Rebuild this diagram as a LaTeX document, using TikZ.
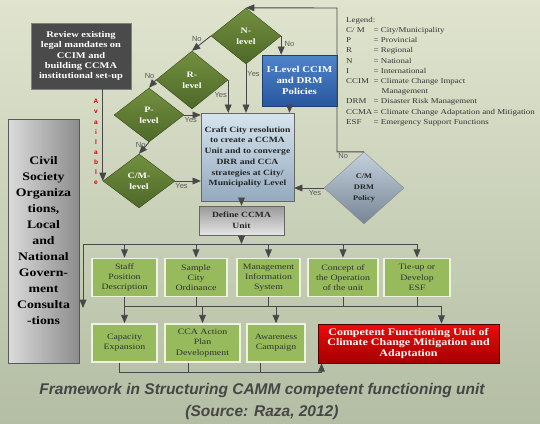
\documentclass[tikz,border=0pt]{standalone}
\usepackage{fontspec}
\setmainfont{Liberation Serif}[FakeStretch=1.2]
\newfontfamily\lblfont{Liberation Sans}
\usepackage{tikz}
\usetikzlibrary{arrows,shapes.geometric}

\definecolor{bgtop}{RGB}{224,228,206}
\definecolor{bgbot}{RGB}{180,190,164}
\definecolor{leveltop}{RGB}{114,144,64}
\definecolor{levelbot}{RGB}{78,104,40}
\definecolor{linegray}{RGB}{72,72,72}
\definecolor{taskgreen}{RGB}{150,186,92}
\definecolor{taskrim}{RGB}{238,243,224}
\definecolor{reviewgray}{RGB}{74,74,74}
\definecolor{ilevtop}{RGB}{80,132,202}
\definecolor{ilevbot}{RGB}{40,88,160}
\definecolor{crafttop}{RGB}{214,228,238}
\definecolor{craftbot}{RGB}{148,170,190}
\definecolor{policytop}{RGB}{196,210,222}
\definecolor{policybot}{RGB}{118,132,148}
\definecolor{redtop}{RGB}{234,12,12}
\definecolor{redbot}{RGB}{166,0,0}
\definecolor{captiongray}{RGB}{70,70,70}

\newcommand{\legendrow}[2]{\makebox[27.5pt][l]{#1}#2}

\begin{document}
\begin{tikzpicture}[
    x=1pt, y=-1pt,
    >=triangle 45,
    arr/.style={->, draw=linegray, line width=0.9pt},
    conn/.style={draw=linegray, line width=0.9pt},
    lvl/.style={diamond, draw=levelbot!70!black, top color=leveltop, bottom color=levelbot,
        text=white, font=\fontsize{8.3}{11}\selectfont\bfseries, align=center, inner sep=0pt,
        minimum width=70pt, minimum height=56pt},
    task/.style={rectangle, fill=taskgreen, draw=taskrim, line width=1.8pt, text=black!80,
        font=\fontsize{8.2}{10.3}\selectfont, align=center, inner sep=0pt, minimum height=38pt},
    yn/.style={font=\lblfont\fontsize{7.5}{9}\selectfont, text=black!65, inner sep=1pt},
    avail/.style={font=\lblfont\fontsize{6.5}{10.1}\selectfont\bfseries, text=red!85!black, align=center, inner sep=0pt}
]
\fill[top color=bgtop, bottom color=bgbot] (0, 0) rectangle (540, 423);
\useasboundingbox (0, 0) rectangle (540, 423);

\node[fill=reviewgray, draw=black!50, text=white, align=center, inner sep=0pt,
    minimum width=100pt, minimum height=66pt, font=\fontsize{8.7}{10.3}\selectfont\bfseries]
    (review) at (81, 56) {Review existing\\legal mandates on\\CCIM and\\building CCMA\\institutional set-up};
\node[avail] (avail) at (96, 142) {A\\v\\a\\i\\l\\a\\b\\l\\e};

\node[lvl] (nlev) at (246, 36) {N-\\level};
\node[lvl, minimum width=72pt, minimum height=58pt] (rlev) at (192, 80) {R-\\level};
\node[lvl, minimum height=54pt] (plev) at (149, 115) {P-\\level};
\node[lvl, minimum width=72pt, minimum height=54pt] (cmlev) at (139, 181) {C/M-\\level};

\node[top color=ilevtop, bottom color=ilevbot, draw=ilevbot!70!black, text=white, align=center,
    inner sep=0pt, minimum width=75pt, minimum height=51pt, font=\fontsize{9}{11}\selectfont\bfseries]
    (ilev) at (299.5, 80.5) {I-Level CCIM\\and DRM\\Policies};
\node[top color=crafttop, bottom color=craftbot, draw=black!60, text=black!85, align=center,
    inner sep=0pt, minimum width=93pt, minimum height=88pt, font=\fontsize{8}{10.7}\selectfont\bfseries]
    (craft) at (247.5, 157) {Craft City resolution\\to create a CCMA\\Unit and to converge\\DRR and CCA\\strategies at City/\\Municipality Level};
\node[diamond, top color=policytop, bottom color=policybot, draw=black!45, text=black!85, align=center,
    inner sep=0pt, minimum width=80pt, minimum height=72pt, font=\fontsize{7}{11}\selectfont\bfseries]
    (cmdrm) at (364, 188) {C/M\\DRM\\Policy};
\node[top color=black!40, bottom color=black!10, draw=black!60, text=black!85, align=center,
    inner sep=0pt, minimum width=85pt, minimum height=29pt, font=\fontsize{8}{11}\selectfont\bfseries]
    (define) at (241.5, 220.5) {Define CCMA\\Unit};

\node[task, minimum width=65pt] (staff) at (124.5, 277.5) {Staff\\Position\\Description};
\node[task, minimum width=62pt] (sample) at (196, 277.5) {Sample\\City\\Ordinance};
\node[task, minimum width=63pt] (mis) at (268.5, 277.5) {Management\\Information\\System};
\node[task, minimum width=70pt] (concept) at (343, 277.5) {Concept of\\the Operation\\of the unit};
\node[task, minimum width=66pt] (tieup) at (417, 277.5) {Tie-up or\\Develop\\ESF};

\node[task, minimum width=65pt] (capacity) at (124.5, 343) {Capacity\\Expansion};
\node[task, minimum width=75pt] (ccaplan) at (202.5, 343) {CCA Action\\Plan\\Development};
\node[task, minimum width=58pt] (awareness) at (276, 343) {Awareness\\Campaign};
\node[top color=redtop, bottom color=redbot, draw=black!70!red, line width=0.8pt, text=white, align=center,
    inner sep=0pt, minimum width=181pt, minimum height=39pt, font=\fontsize{10}{10.5}\selectfont\bfseries]
    (competent) at (408.5, 343.5) {Competent Functioning Unit of\\Climate Change Mitigation and\\Adaptation};

\node[left color=black!14, right color=black!45, draw=black!65, text=black, align=center,
    inner sep=0pt, minimum width=71pt, minimum height=244pt, font=\fontsize{11.5}{16}\selectfont\bfseries]
    (civil) at (43.5, 241) {Civil\\Society\\Organiza\\tions,\\Local\\and\\National\\Govern-\\ment\\Consulta\\-tions};

\node[anchor=north west, align=left, inner sep=0pt, text=black!80, font=\fontsize{7.4}{10.2}\selectfont]
    (legend) at (346, 17) {Legend:\\
    \legendrow{C/ M}{= City/Municipality}\\
    \legendrow{P}{= Provincial}\\
    \legendrow{R}{= Regional}\\
    \legendrow{N}{= National}\\
    \legendrow{I}{= International}\\
    \legendrow{CCIM}{= Climate Change Impact}\\
    \legendrow{}{\hspace{8pt}Management}\\
    \legendrow{DRM}{= Disaster Risk Management}\\
    \legendrow{CCMA}{= Climate Change Adaptation and Mitigation}\\
    \legendrow{ESF}{= Emergency Support Functions}};

\node[align=center, text=captiongray, font=\lblfont\fontsize{15.5}{22}\selectfont\bfseries\itshape]
    (caption) at (262, 401) {Framework in Structuring CAMM competent functioning unit\\(Source: Raza, 2012)};

\coordinate (loop) at (337, 8);
\coordinate (busl) at (83, 244);
\coordinate (busld) at (83, 308);
\coordinate (mid) at (0, 306);
\coordinate (low) at (0, 372);
\coordinate (iout) at ([xshift=-10pt]ilev.south);
\coordinate (cin) at ([xshift=33pt]competent.north);
\coordinate (cout) at ([xshift=-87pt]competent.south);

\draw[arr] (review.south -| cmlev.west) to (cmlev.west);
\draw[arr] (nlev.west) to node[yn, pos=0.2, left=4pt] {No} (rlev.north);
\draw[arr] (rlev.west) to node[yn, pos=0, above left] {No} (plev.north);
\draw[arr] (plev.south) to node[yn, pos=0.2, left] {No} (cmlev.north);
\draw[arr] (nlev.east) to node[yn, pos=0.4, right=2pt] {No} (nlev.east |- ilev.north);
\draw[arr] (nlev.south) to node[yn, pos=0.2, right] {Yes} (nlev.south |- craft.north);
\draw[arr] (rlev.east) to node[yn, pos=0.45, left] {Yes} (rlev.east |- craft.north);
\draw[arr] (plev.east) to node[yn, pos=0.4, below=1pt] {Yes} (plev.east -| craft.west);
\draw[arr] (cmlev.east) to node[yn, pos=0.25, below=1pt] {Yes} (cmlev.east -| craft.west);
\draw[arr] (iout) to (iout |- craft.north);
\draw[arr] (cmdrm.west) to node[yn, pos=0.3, below=1pt] {Yes} (cmdrm.west -| craft.east);
\draw[arr] (cmdrm.north) -| node[yn, pos=0.5, below right] {No} (loop) to (nlev.north);
\draw[arr] (craft.south -| define.north) to (define.north);

\draw[arr] (define.south) to (define.south |- busl);
\draw[conn] (busl) to (tieup.north |- busl);
\draw[arr] (busl) to (busld);
\foreach \t in {staff, sample, mis, concept, tieup}
    \draw[arr] (\t.north |- busl) to (\t.north);
\foreach \t in {staff, sample, mis, concept, tieup}
    \draw[conn] (\t.south) to (\t.south |- mid);
\draw[conn] (staff.south |- mid) to (cin |- mid);
\foreach \t in {capacity, ccaplan, awareness}
    \draw[arr] (\t.north |- mid) to (\t.north);
\draw[arr] (cin |- mid) to (cin);

\draw[arr] ([xshift=-5pt]capacity.south) |- (cout |- low) to (cout);
\draw[conn] ([xshift=-14pt]ccaplan.south) |- (cout |- low);
\draw[conn] ([xshift=-16pt]awareness.south) |- (cout |- low);
\end{tikzpicture}
\end{document}
